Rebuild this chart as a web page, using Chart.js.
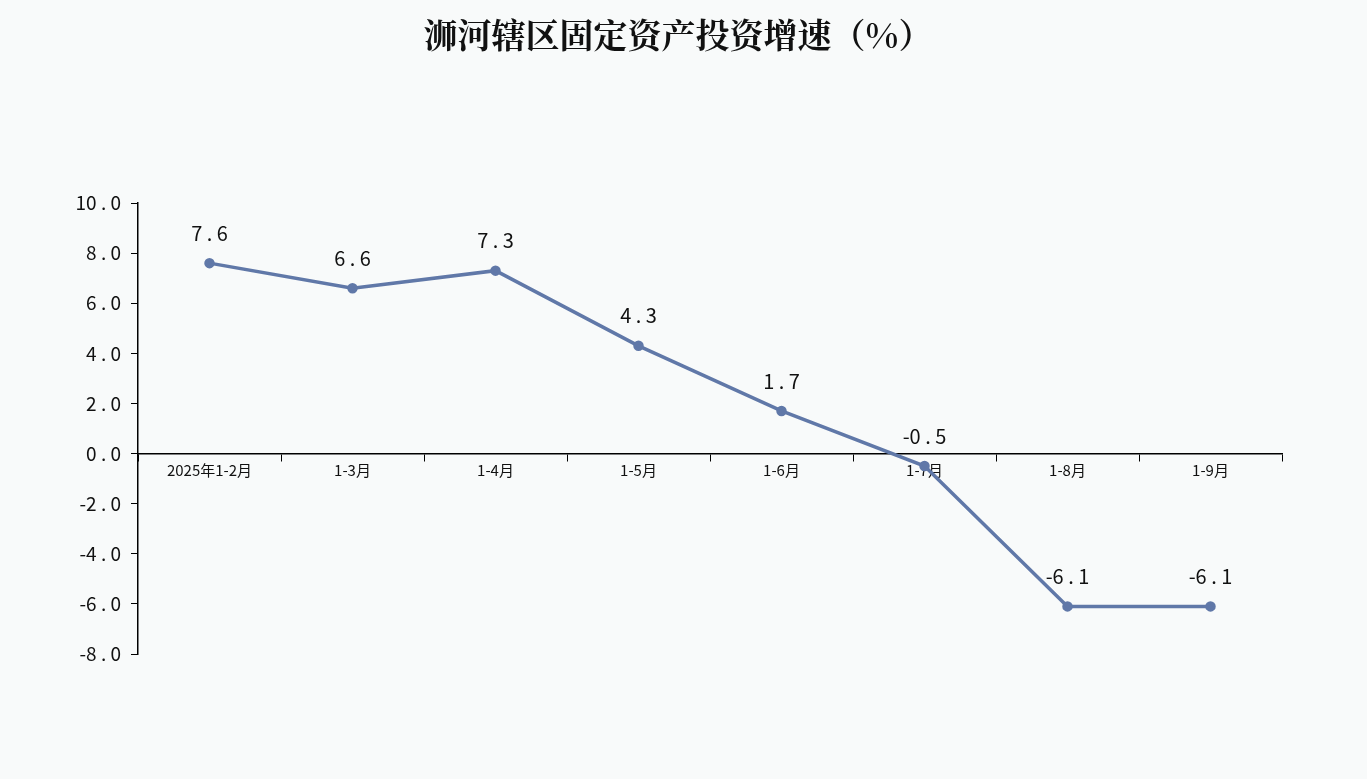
<!DOCTYPE html>
<html><head><meta charset="utf-8">
<script src="https://cdn.jsdelivr.net/npm/chart.js@4/dist/chart.umd.min.js"></script>
<style>html,body{margin:0;background:#f8fafa;}#c{display:block}</style>
</head><body>
<div style="width:1367px;height:779px"><canvas id="c"></canvas></div>
<script>
const titleText = '浉河辖区固定资产投资增速（%）';
const categories = ['2025年1-2月', '1-3月', '1-4月', '1-5月', '1-6月', '1-7月', '1-8月', '1-9月'];
const growth = [7.6, 6.6, 7.3, 4.3, 1.7, -0.5, -6.1, -6.1];
const lineColor = '#6078a8';

// 标题和数据标签自己画
const labelPlugin = {
    id: 'labels',
    afterDatasetsDraw(chart) {
        const ctx = chart.ctx;
        ctx.save();
        ctx.fillStyle = '#111';
        ctx.font = 'bold 34px "Noto Serif CJK SC", "Noto Sans CJK SC", serif';
        ctx.textAlign = 'center';
        ctx.textBaseline = 'middle';
        ctx.fillText(titleText, 678, 35);
        ctx.font = '20px "Noto Sans CJK SC", sans-serif';
        ctx.textBaseline = 'bottom';
        chart.getDatasetMeta(0).data.forEach((pt, i) => {
            ctx.fillText(growth[i].toFixed(1).split('').join(' ').replace('- ', '-'), pt.x, pt.y - 20);
        });
        ctx.restore();
    }
};

new Chart(document.getElementById('c'), {
    type: 'line',
    data: {
        labels: categories,
        datasets: [{
            data: growth,
            borderColor: lineColor,
            backgroundColor: lineColor,
            borderWidth: 3.5,
            pointRadius: 3.5,
            tension: 0
        }]
    },
    plugins: [labelPlugin],
    options: {
        responsive: true,
        maintainAspectRatio: false,
        animation: false,
        layout: { padding: { top: 203, right: 85, bottom: 125, left: 0 } },
        plugins: { legend: { display: false }, tooltip: { enabled: false } },
        scales: {
            x: {
                position: { y: 0 },
                offset: true,
                grid: { drawOnChartArea: false, offset: true, tickLength: 7, color: '#000' },
                border: { color: '#000', width: 1.5 },
                ticks: { color: '#111', font: { size: 15, family: '"Noto Sans CJK SC", sans-serif' }, padding: 1, maxRotation: 0 }
            },
            y: {
                min: -8, max: 10,
                afterFit(s) { s.width = 138; },
                grid: { drawOnChartArea: false, tickLength: 7, color: '#000' },
                border: { color: '#000', width: 1.5 },
                ticks: {
                    stepSize: 2, color: '#111', padding: 10,
                    font: { size: 19, family: '"Noto Sans CJK SC", sans-serif' },
                    callback: v => v.toFixed(1).split('').join(' ').replace('- ', '-').replace('1 0', '10')
                }
            }
        }
    }
});
</script>
</body></html>
